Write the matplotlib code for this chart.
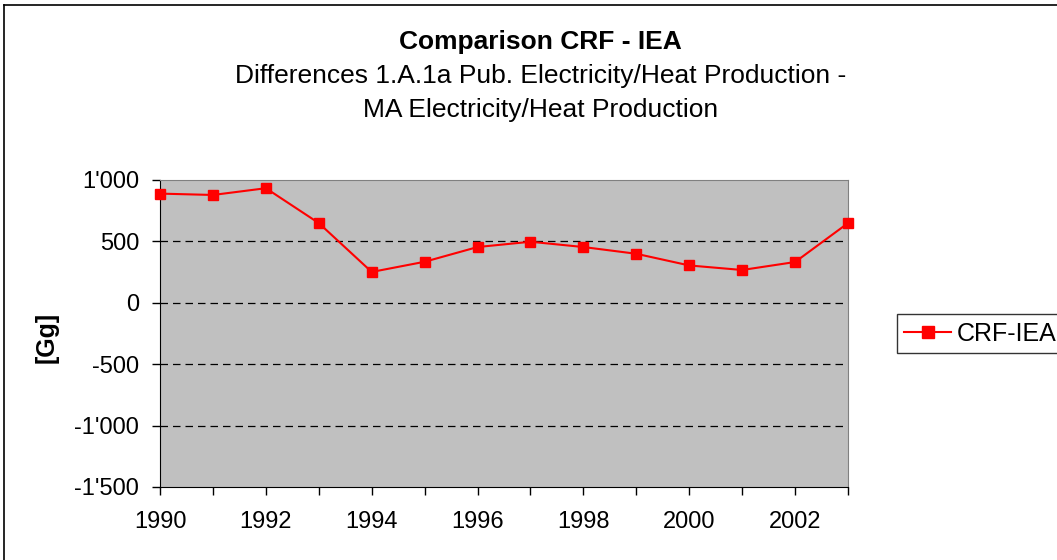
import matplotlib
matplotlib.use("Agg")
import matplotlib.pyplot as plt
from matplotlib.ticker import FuncFormatter, MultipleLocator
from matplotlib.lines import Line2D

plt.rcParams["font.family"] = ["Liberation Sans", "DejaVu Sans"]

years = [1990, 1991, 1992, 1993, 1994, 1995, 1996,
         1997, 1998, 1999, 2000, 2001, 2002, 2003]
crf_iea = [889, 878, 933, 649, 251, 334, 454,
           497, 454, 399, 304, 267, 332, 649]


def swiss_fmt(v, pos):
    s = "{:,.0f}".format(abs(v)).replace(",", "'")
    return "-" + s if v < 0 else s


fig = plt.figure(figsize=(10.57, 5.6), dpi=100)
ax = fig.add_axes([0.1514, 0.1304, 0.6509, 0.5482])
ax.set_facecolor("#c0c0c0")

ax.plot(years, crf_iea, color="red", marker="s", markersize=7.5,
        linewidth=1.5, label="CRF-IEA", clip_on=False, zorder=3)

ax.set_xlim(1990, 2003)
ax.set_ylim(-1500, 1000)
ax.yaxis.set_major_locator(MultipleLocator(500))
ax.yaxis.set_major_formatter(FuncFormatter(swiss_fmt))
ax.set_xticks(years)
ax.set_xticklabels([str(y) if y % 2 == 0 else "" for y in years])
ax.tick_params(direction="out", length=6, width=1, labelsize=17)
ax.tick_params(axis="y", pad=9)
ax.tick_params(axis="x", pad=11)

for v in [500, 0, -500, -1000]:
    ax.axhline(v, color="black", linestyle=(0, (6, 4)), linewidth=0.9, zorder=1)

for side in ["top", "right"]:
    ax.spines[side].set_color("#808080")
for side in ["left", "bottom"]:
    ax.spines[side].set_color("black")

ax.set_ylabel("[Gg]", fontsize=18, fontweight="bold", va="center")
ax.yaxis.set_label_coords(-0.165, 0.487)

fig.text(0.511, 0.925, "Comparison CRF - IEA", ha="center", va="center",
         fontsize=19, fontweight="bold")
fig.text(0.511, 0.864, "Differences 1.A.1a Pub. Electricity/Heat Production -",
         ha="center", va="center", fontsize=19)
fig.text(0.511, 0.804, "MA Electricity/Heat Production",
         ha="center", va="center", fontsize=19)

leg = fig.legend(loc="center left", bbox_to_anchor=(0.8486, 0.404), fontsize=18,
                 frameon=True, fancybox=False, edgecolor="black",
                 handlelength=1.85, borderpad=0.3, handletextpad=0.25,
                 borderaxespad=0, markerscale=1.1)
leg.get_frame().set_linewidth(1)

# chart frame: only the left and top edges fall inside the image
fig.add_artist(Line2D([0.0035, 0.0035], [0.0, 0.991], transform=fig.transFigure,
                      color="black", linewidth=1.2))
fig.add_artist(Line2D([0.0035, 1.0], [0.991, 0.991], transform=fig.transFigure,
                      color="black", linewidth=1.2))

fig.savefig("out.png", dpi=100)
